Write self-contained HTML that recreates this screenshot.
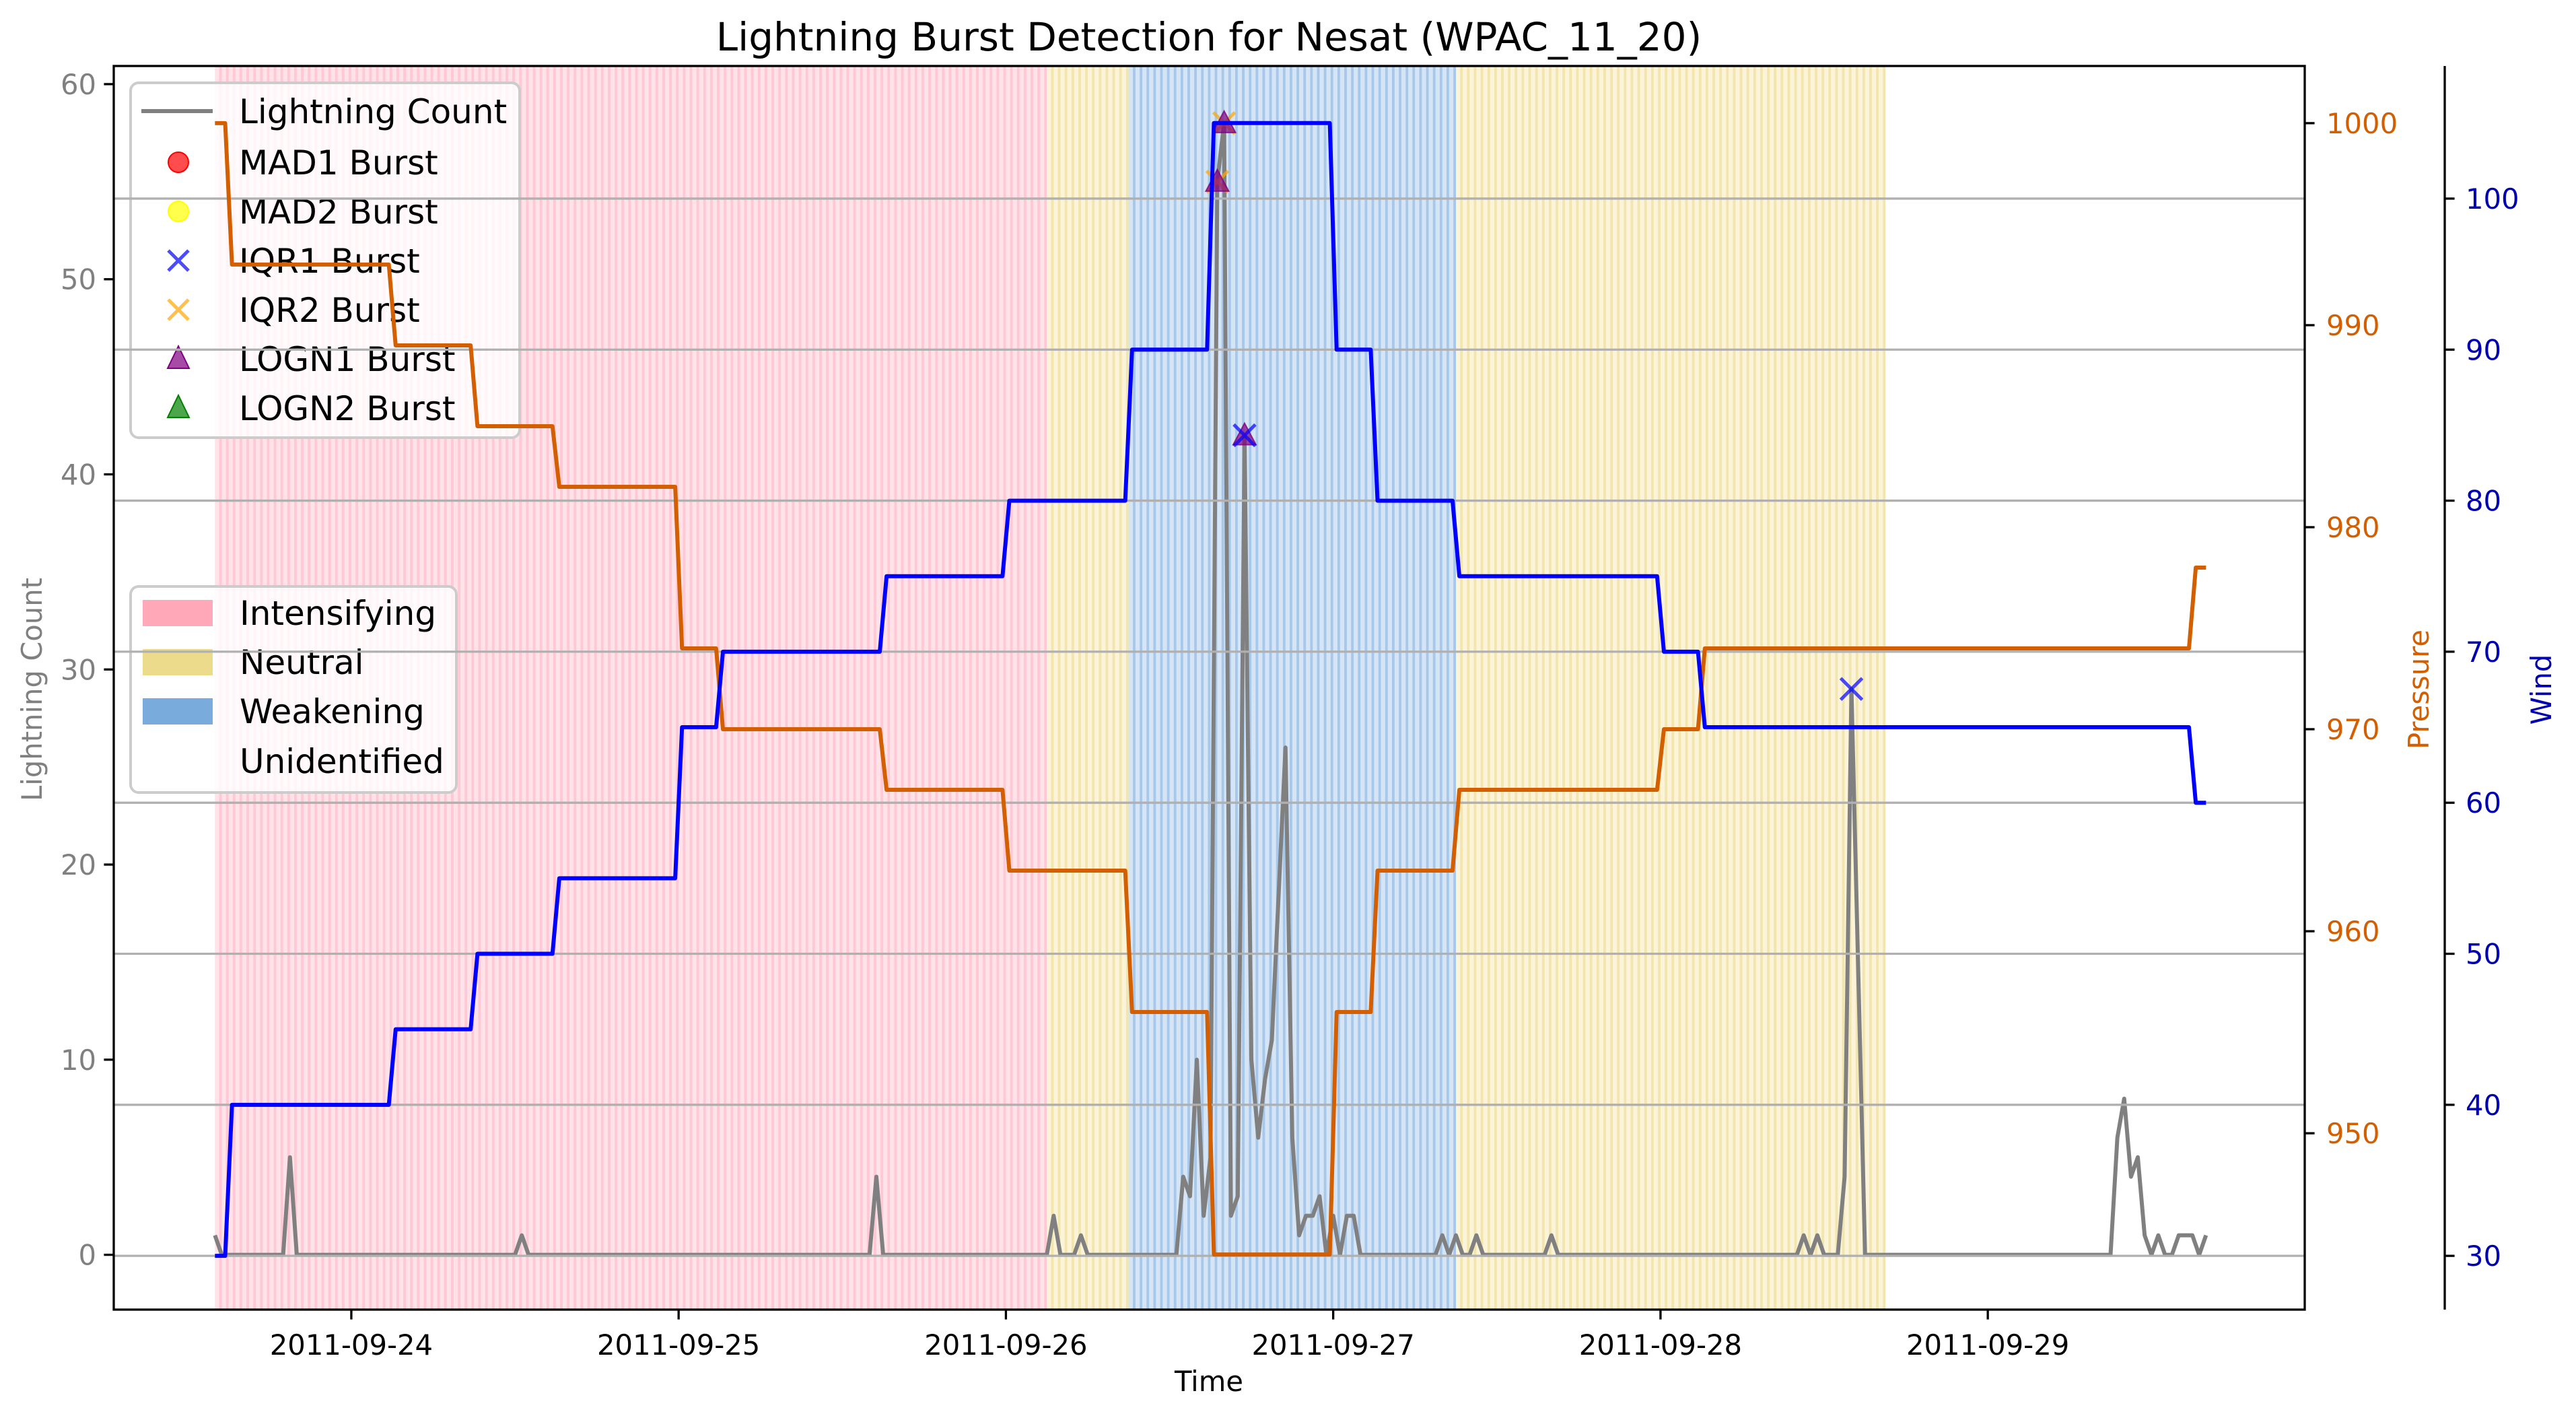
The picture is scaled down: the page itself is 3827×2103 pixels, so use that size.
<!DOCTYPE html>
<html><head><meta charset="utf-8"><title>Lightning Burst Detection</title>
<style>
html,body{margin:0;padding:0;background:#fff;}
svg{display:block;font-family:"DejaVu Sans","Liberation Sans",sans-serif;}
</style></head>
<body>
<svg id="chart" xmlns="http://www.w3.org/2000/svg" width="3827" height="2103" viewBox="0 0 3827 2103">
<defs id="defs"></defs>
<g id="bands"></g>
<g id="lightning-layer"></g>
<g id="legend1">
  <rect x="194" y="123" width="578" height="527" rx="12" fill="#ffffff" fill-opacity="0.8" stroke="#cccccc" stroke-width="4"/>
  <line x1="210" y1="165" x2="316" y2="165" stroke="#808080" stroke-width="6"/>
  <text x="355" y="183" font-size="50">Lightning Count</text>
  <circle cx="265" cy="241" r="15" fill="#ff0000" fill-opacity="0.7" stroke="#ff0000" stroke-width="2"/>
  <text x="355" y="259" font-size="50">MAD1 Burst</text>
  <circle cx="265" cy="314" r="15" fill="#ffff00" fill-opacity="0.7" stroke="#ffff00" stroke-width="2"/>
  <text x="355" y="332" font-size="50">MAD2 Burst</text>
  <path d="M250 372 L280 402 M280 372 L250 402" stroke="#0000ff" stroke-opacity="0.7" stroke-width="5"/>
  <text x="355" y="405" font-size="50">IQR1 Burst</text>
  <path d="M250 445 L280 475 M280 445 L250 475" stroke="#ffa500" stroke-opacity="0.7" stroke-width="5"/>
  <text x="355" y="478" font-size="50">IQR2 Burst</text>
  <path d="M265 514 L281 547 L249 547 Z" fill="#800080" fill-opacity="0.7" stroke="#800080" stroke-width="2"/>
  <text x="355" y="551" font-size="50">LOGN1 Burst</text>
  <path d="M265 587 L281 620 L249 620 Z" fill="#008000" fill-opacity="0.7" stroke="#008000" stroke-width="2"/>
  <text x="355" y="624" font-size="50">LOGN2 Burst</text>
</g>
<g id="legend2">
  <rect x="194" y="871" width="484" height="306" rx="12" fill="#ffffff" fill-opacity="0.8" stroke="#cccccc" stroke-width="4"/>
  <rect x="212" y="891" width="104" height="39" fill="#ffa8b8"/>
  <text x="356" y="928" font-size="50">Intensifying</text>
  <rect x="212" y="964" width="104" height="39" fill="#ecdb8a"/>
  <text x="356" y="1001" font-size="50">Neutral</text>
  <rect x="212" y="1037" width="104" height="39" fill="#7aabdd"/>
  <text x="356" y="1074" font-size="50">Weakening</text>
  <text x="356" y="1148" font-size="50">Unidentified</text>
</g>
<g id="grid"></g>
<g id="pressure-layer"></g>
<g id="wind-layer"></g>
<g id="axes"></g>
<text x="1796" y="75" font-size="58" text-anchor="middle">Lightning Burst Detection for Nesat (WPAC_11_20)</text>
<text x="1796" y="2066" font-size="41.7" text-anchor="middle">Time</text>
<text transform="translate(62,1024) rotate(-90)" font-size="41.7" fill="#808080" text-anchor="middle">Lightning Count</text>
<text transform="translate(3608,1024) rotate(-90)" font-size="41.7" fill="#d35f00" text-anchor="middle">Pressure</text>
<text transform="translate(3790,1024) rotate(-90)" font-size="41.7" fill="#0000b0" text-anchor="middle">Wind</text>
</svg>
<script>
// ---- data (time in hours since 2011-09-24 00:00) ----
const lightningHours = [-10,-9.5,-5,-4.5,-4,12,12.5,13,38,38.5,39,51,51.5,52,53,53.5,54,60.5,61,61.5,62,62.5,63,63.5,64,64.5,65,65.5,66,66.5,67,67.5,68.5,69,69.5,70,70.5,71,71.5,72,72.5,73,73.5,74,79.5,80,80.5,81,81.5,82,82.5,83,87.5,88,88.5,106,106.5,107,107.5,108,109,109.5,110,111,129,129.5,130,130.5,131,131.5,132,132.5,133,133.5,134,135,135.5,136];
const lightningCounts = [1,0,0,5,0,0,1,0,0,4,0,0,2,0,0,1,0,0,4,3,10,2,5,55,58,2,3,42,10,6,9,11,26,6,1,2,2,3,0,2,0,2,2,0,0,1,0,1,0,0,1,0,0,1,0,0,1,0,1,0,0,4,29,0,0,6,8,4,5,1,0,1,0,0,1,1,0,1];
const stepHours = [-10,-9,3,9,15,24,27,39,48,57,63,72,75,81,96,99,135];
const windValues = [30,40,45,50,55,65,70,75,80,90,105,90,80,75,70,65,60];
const pressureValues = [1000,993,989,985,982,974,970,967,963,956,944,956,963,967,970,974,978];
const seriesEnd = 136;
const phaseNames = ["Intensifying","Neutral","Weakening","Neutral"];
const phaseStart = [-10,51,57,81];
const phaseEnd = [51,57,81,112.5];
const iqr1Hours = [65.5,110]; const iqr1Counts = [42,29];
const iqr2Hours = [63.5,64]; const iqr2Counts = [55,58];
const logn1Hours = [63.5,64,65.5]; const logn1Counts = [55,58,42];
const countTicks = [0,10,20,30,40,50,60];
const pressureTicks = [950,960,970,980,990,1000];
const windTicks = [30,40,50,60,70,80,90,100];
const dateTickHours = [0,24,48,72,96,120];
const dateTickLabels = ["2011-09-24","2011-09-25","2011-09-26","2011-09-27","2011-09-28","2011-09-29"];

// ---- layout ----
const L=169,R=3424,T=98,B=1945;
const xMin=-17.42,xMax=143.24;
const x=h=>L+(h-xMin)/(xMax-xMin)*(R-L);
const yC=v=>B-(v-(-2.81))/(60.93-(-2.81))*(B-T);
const yP=v=>B-(v-941.27)/(1002.83-941.27)*(B-T);
const yW=v=>B-(v-26.44)/(108.78-26.44)*(B-T);
const NS="http://www.w3.org/2000/svg";
function mk(tag,attrs,parent){const e=document.createElementNS(NS,tag);for(const k in attrs)e.setAttribute(k,attrs[k]);parent.appendChild(e);return e;}

// ---- bands ----
const defs=document.getElementById('defs');
const bandColors={Intensifying:["#ffe3e9","#ffc8d4"],Neutral:["#fbf4d9","#f3e5ae"],Weakening:["#d5e5f6","#a7c8ea"]};
const per=(x(1)-x(0))/2;
const bands=document.getElementById('bands');
phaseNames.forEach((n,i)=>{
  const id='pat'+i;
  const p=mk('pattern',{id:id,patternUnits:'userSpaceOnUse',x:x(phaseStart[i]),y:0,width:per,height:10},defs);
  mk('rect',{x:0,y:0,width:per,height:10,fill:bandColors[n][0]},p);
  mk('rect',{x:per*0.62,y:0,width:per*0.38,height:10,fill:bandColors[n][1]},p);
  const r=mk('rect',{x:x(phaseStart[i]),y:T,width:x(phaseEnd[i])-x(phaseStart[i]),height:B-T,fill:'url(#'+id+')'},bands);
  
  
});

// ---- lightning ----
const ll=document.getElementById('lightning-layer');
const lp=mk('polyline',{points:lightningHours.map((h,i)=>x(h)+','+yC(lightningCounts[i])).join(' '),fill:'none',stroke:'#808080','stroke-width':6,'stroke-linejoin':'round'},ll);


function xMark(h,v,color,name){const cx=x(h),cy=yC(v),s=16;
  const e=mk('path',{d:`M${cx-s} ${cy-s} L${cx+s} ${cy+s} M${cx+s} ${cy-s} L${cx-s} ${cy+s}`,stroke:color,'stroke-opacity':0.7,'stroke-width':5,fill:'none'},ll);
  
  }
function triMark(h,v,color,name){const cx=x(h),cy=yC(v);
  const e=mk('path',{d:`M${cx} ${cy-18} L${cx+17} ${cy+14} L${cx-17} ${cy+14} Z`,fill:color,'fill-opacity':0.7,stroke:color,'stroke-opacity':0.8,'stroke-width':2},ll);
  
  }
iqr2Hours.forEach((h,i)=>xMark(h,iqr2Counts[i],'#ffa500','iqr2-burst-marker'));
logn1Hours.forEach((h,i)=>triMark(h,logn1Counts[i],'#800080','logn1-burst-marker'));
iqr1Hours.forEach((h,i)=>xMark(h,iqr1Counts[i],'#0000ff','iqr1-burst-marker'));

// ---- grid (wind axis) ----
const grid=document.getElementById('grid');
windTicks.forEach(v=>{const g=mk('line',{x1:L,x2:R,y1:yW(v),y2:yW(v),stroke:'#b0b0b0','stroke-width':3.3},grid);
  
  });

// ---- step series (transition centred on step hour, half hour wide) ----
function stepPoints(vals,yf){const pts=[];for(let i=0;i<stepHours.length;i++){
  const start=i===0?stepHours[0]:stepHours[i]+0.25;
  const end=i<stepHours.length-1?stepHours[i+1]-0.25:seriesEnd;
  pts.push(x(start)+','+yf(vals[i]));pts.push(x(end)+','+yf(vals[i]));}
  return pts.join(' ');}
const pl=mk('polyline',{points:stepPoints(pressureValues,yP),fill:'none',stroke:'#d35f00','stroke-width':6,'stroke-linejoin':'round'},document.getElementById('pressure-layer'));


const wl=mk('polyline',{points:stepPoints(windValues,yW),fill:'none',stroke:'#0000ff','stroke-width':6,'stroke-linejoin':'round'},document.getElementById('wind-layer'));



// ---- axes ----
const ax=document.getElementById('axes');
const fr=mk('rect',{x:L,y:T,width:R-L,height:B-T,fill:'none',stroke:'#000','stroke-width':3.3},ax);


const ws=mk('line',{x1:3632,x2:3632,y1:T,y2:B,stroke:'#000','stroke-width':3.3},ax);


countTicks.forEach(v=>{const y=yC(v);
  const t=mk('line',{x1:L-14.6,x2:L,y1:y,y2:y,stroke:'#000','stroke-width':3.3},ax);
  
  
  const s=mk('text',{x:L-26,y:y+15,'font-size':41.7,fill:'#808080','text-anchor':'end'},ax);s.textContent=v;
  
  });
pressureTicks.forEach(v=>{const y=yP(v);
  const t=mk('line',{x1:R,x2:R+14.6,y1:y,y2:y,stroke:'#000','stroke-width':3.3},ax);
  
  
  const s=mk('text',{x:3456,y:y+15,'font-size':41.7,fill:'#d35f00'},ax);s.textContent=v;
  
  });
windTicks.forEach(v=>{const y=yW(v);
  const t=mk('line',{x1:3632,x2:3646.6,y1:y,y2:y,stroke:'#000','stroke-width':3.3},ax);
  
  
  const s=mk('text',{x:3663,y:y+15,'font-size':41.7,fill:'#0000b0'},ax);s.textContent=v;
  
  });
dateTickHours.forEach((h,i)=>{const xx=x(h);
  const t=mk('line',{x1:xx,x2:xx,y1:B,y2:B+14.6,stroke:'#000','stroke-width':3.3},ax);
  
  
  const s=mk('text',{x:xx,y:2012,'font-size':41.7,'text-anchor':'middle'},ax);s.textContent=dateTickLabels[i];
  
  });
</script>
</body></html>
